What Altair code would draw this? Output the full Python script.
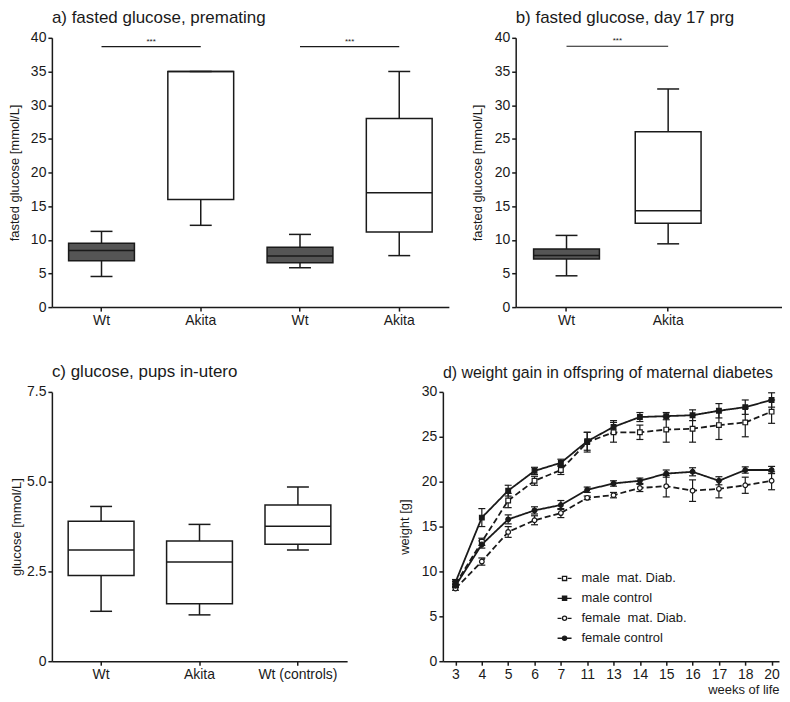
import altair as alt
import pandas as pd

FONT = "Liberation Sans"
INK = "#1a1a1a"
DARK = "#555555"

# ---------------- panel a: fasted glucose, premating ----------------
a_keys = ["Wt_1", "Akita_1", "Wt_2", "Akita_2"]
a_group = ["wt", "akita", "wt", "akita"]
a_min = [4.55, 12.15, 5.85, 7.65]
a_q1 = [6.9, 16.0, 6.6, 11.15]
a_med = [8.4, 35.0, 7.6, 17.0]
a_q3 = [9.5, 35.0, 8.9, 28.0]
a_max = [11.25, 35.0, 10.8, 35.0]
a_sig_from = ["Wt_1", "Wt_2"]
a_sig_to = ["Akita_1", "Akita_2"]
a_sig_y = [38.7, 38.7]
a_sig_text = ["***", "***"]

# ---------------- panel b: fasted glucose, day 17 prg ----------------
b_keys = ["Wt", "Akita"]
b_group = ["wt", "akita"]
b_min = [4.65, 9.4]
b_q1 = [7.15, 12.45]
b_med = [7.65, 14.3]
b_q3 = [8.65, 26.05]
b_max = [10.65, 32.4]
b_sig_from = ["Wt"]
b_sig_to = ["Akita"]
b_sig_y = [38.75]
b_sig_text = ["***"]

# ---------------- panel c: glucose, pups in-utero ----------------
c_keys = ["Wt", "Akita", "Wt (controls)"]
c_group = ["akita", "akita", "akita"]
c_min = [1.39, 1.29, 3.10]
c_q1 = [2.39, 1.60, 3.26]
c_med = [3.10, 2.76, 3.76]
c_q3 = [3.90, 3.35, 4.35]
c_max = [4.31, 3.81, 4.85]

# ---------------- panel d: weight gain ----------------
weeks = ["3", "4", "5", "6", "7", "11", "13", "14", "15", "16", "17", "18", "20"]
series = ["male\u00a0 mat. Diab.", "male control", "female\u00a0 mat. Diab.", "female control"]
male_diab = [8.6, 13.3, 17.9, 20.1, 21.3, 24.4, 25.5, 25.5, 25.8, 25.9, 26.3, 26.6, 27.8]
male_diab_sem = [0.3, 0.4, 0.8, 0.5, 0.5, 1.1, 1.1, 0.8, 1.4, 1.5, 1.6, 1.6, 1.3]
male_ctrl = [8.8, 16.0, 19.0, 21.2, 22.1, 24.5, 26.1, 27.2, 27.3, 27.4, 27.9, 28.3, 29.1]
male_ctrl_sem = [0.3, 1.0, 0.6, 0.4, 0.4, 1.0, 0.7, 0.5, 0.4, 0.6, 0.8, 0.8, 0.8]
fem_diab = [8.1, 11.1, 14.4, 15.7, 16.5, 18.2, 18.5, 19.3, 19.5, 19.0, 19.2, 19.6, 20.1]
fem_diab_sem = [0.2, 0.4, 0.6, 0.5, 0.5, 0.2, 0.3, 0.4, 1.2, 1.2, 1.0, 0.9, 1.0]
fem_ctrl = [8.4, 13.0, 15.8, 16.8, 17.4, 19.1, 19.8, 20.1, 20.9, 21.1, 20.1, 21.3, 21.3]
fem_ctrl_sem = [0.2, 0.4, 0.5, 0.4, 0.5, 0.3, 0.3, 0.3, 0.4, 0.45, 0.45, 0.35, 0.4]

BOXW = 66
CAPW = 22


def box_panel(keys, group, mn, q1, med, q3, mx, xscale, ydom, yvals, ytitle,
              title, width, height, sig=None, label_expr=None, ylabel_expr=None,
              title_pad=10):
    df = pd.DataFrame({"key": keys, "grp": group, "lo": mn, "q1": q1,
                       "med": med, "q3": q3, "hi": mx})
    if label_expr:
        xaxis = alt.Axis(title=None, labelAngle=0, labelExpr=label_expr)
    else:
        xaxis = alt.Axis(title=None, labelAngle=0)
    x = alt.X("key:N", scale=xscale, axis=xaxis)
    yaxis_kw = dict(values=yvals, title=ytitle, titlePadding=title_pad)
    if ylabel_expr:
        yaxis_kw["labelExpr"] = ylabel_expr
    yscale = alt.Scale(domain=ydom, nice=False, zero=True)

    def Y(field):
        return alt.Y(field, scale=yscale, axis=alt.Axis(**yaxis_kw))

    base = alt.Chart(df)
    whisk = base.mark_rule(color=INK, strokeWidth=1.5, opacity=1).encode(
        x=x, y=Y("lo:Q"), y2="hi:Q")
    box = base.mark_bar(size=BOXW, stroke=INK, strokeWidth=1.5, opacity=1).encode(
        x=x, y=Y("q1:Q"), y2="q3:Q",
        fill=alt.Fill("grp:N", scale=alt.Scale(domain=["wt", "akita"], range=[DARK, "white"]),
                      legend=None))
    median = base.mark_tick(size=BOXW, thickness=1.5, color=INK, opacity=1).encode(
        x=x, y=Y("med:Q"))
    caps = base.transform_fold(["lo", "hi"], as_=["end", "v"]).mark_tick(
        size=CAPW, thickness=1.5, color=INK, opacity=1).encode(x=x, y=Y("v:Q"))
    layers = [whisk, box, median, caps]
    if sig is not None:
        sdf = pd.DataFrame({"from": sig[0], "to": sig[1], "y": sig[2], "txt": sig[3]})
        sb = alt.Chart(sdf)
        line = sb.mark_rule(color=INK, strokeWidth=1.2, opacity=1).encode(
            x=alt.X("from:N", scale=xscale, axis=xaxis), x2="to:N", y=Y("y:Q"))
        star = sb.mark_text(font=FONT, fontSize=8, color=INK, dy=-5).encode(
            x=alt.X("to:N", scale=xscale, bandPosition=0, axis=xaxis), y=Y("y:Q"),
            text="txt:N")
        layers += [line, star]
    return alt.layer(*layers).properties(
        width=width, height=height,
        title=alt.TitleParams(title, anchor="start", frame="group"))


yv40 = list(range(0, 41, 5))
pa = box_panel(a_keys, a_group, a_min, a_q1, a_med, a_q3, a_max,
               alt.Scale(domain=a_keys, paddingInner=0, paddingOuter=0),
               [0, 40], yv40, "fasted glucose [mmol/L]",
               "a) fasted glucose, premating", 398, 270,
               sig=(a_sig_from, a_sig_to, a_sig_y, a_sig_text),
               label_expr="split(datum.label, '_')[0]", title_pad=9)
pb = box_panel(b_keys, b_group, b_min, b_q1, b_med, b_q3, b_max,
               alt.Scale(domain=b_keys, paddingInner=0, paddingOuter=0.31, align=0),
               [0, 40], yv40, "fasted glucose [mmol/L]",
               "b) fasted glucose, day 17 prg", 267, 270,
               sig=(b_sig_from, b_sig_to, b_sig_y, b_sig_text))
pc = box_panel(c_keys, c_group, c_min, c_q1, c_med, c_q3, c_max,
               alt.Scale(domain=c_keys, paddingInner=0, paddingOuter=0),
               [0, 7.5], [0, 2.5, 5.0, 7.5], "glucose [mmol/L]",
               "c) glucose, pups in-utero", 296, 270,
               ylabel_expr="datum.value == 0 ? '0' : format(datum.value, '.1f')",
               title_pad=3)

# ---------------- panel d ----------------
rows = []
for s, m, e in zip(series, [male_diab, male_ctrl, fem_diab, fem_ctrl],
                   [male_diab_sem, male_ctrl_sem, fem_diab_sem, fem_ctrl_sem]):
    for w, mv, ev in zip(weeks, m, e):
        rows.append({"series": s, "week": w, "mean": mv, "sem": ev})
ddf = pd.DataFrame(rows)

xs = alt.Scale(type="point", domain=weeks, padding=0.38, align=0.63)
xax = alt.Axis(title="weeks of life", labelAngle=0, titleAnchor="end", titlePadding=2)
xd = alt.X("week:O", scale=xs, axis=xax)
ysd = alt.Scale(domain=[0, 30], nice=False)
yax = alt.Axis(values=list(range(0, 31, 5)), title="weight [g]", titlePadding=10)


def YD(field):
    return alt.Y(field, scale=ysd, axis=yax)


dbase = alt.Chart(ddf)
lines = dbase.mark_line(color=INK, strokeWidth=1.8).encode(
    x=xd, y=YD("mean:Q"),
    strokeDash=alt.StrokeDash("series:N", scale=alt.Scale(domain=series,
                              range=[[6, 3], [1, 0], [6, 3], [1, 0]]), legend=None),
    detail="series:N")
err = dbase.transform_calculate(lo="datum.mean - datum.sem", hi="datum.mean + datum.sem")
ebar = err.mark_rule(color=INK, strokeWidth=1.2, opacity=1).encode(
    x=xd, y=YD("lo:Q"), y2="hi:Q")
ecap = err.transform_fold(["lo", "hi"], as_=["end", "v"]).mark_tick(
    size=7, thickness=1.2, color=INK, opacity=1).encode(x=xd, y=YD("v:Q"))
pts = dbase.mark_point(filled=False, stroke=INK, strokeWidth=1.2, size=22, opacity=1).encode(
    x=xd, y=YD("mean:Q"),
    shape=alt.Shape("series:N", scale=alt.Scale(domain=series,
                    range=["square", "square", "circle", "circle"]), legend=None),
    fill=alt.Fill("series:N", scale=alt.Scale(domain=series,
                  range=["white", INK, "white", INK]), legend=None))

SQ = "M-0.3,-0.3H0.3V0.3H-0.3Z"
CI = "M-0.3,0A0.3,0.3 0 1,0 0.3,0A0.3,0.3 0 1,0 -0.3,0Z"
leg_paths = ["M-1,0H-0.45M0.45,0H1" + SQ, "M-1,0H1" + SQ,
             "M-1,0H-0.45M0.45,0H1" + CI, "M-1,0H1" + CI]
leg = alt.Legend(title=None, orient="none", legendX=114, legendY=179,
                 symbolSize=196, symbolStrokeColor=INK, symbolStrokeWidth=1.3,
                 symbolOpacity=1, labelFont=FONT, labelFontSize=13, labelColor=INK,
                 labelOffset=9, rowPadding=5, padding=0)
legend_layer = dbase.transform_calculate(series_l="datum.series").mark_point(
    filled=False, strokeWidth=1.3, opacity=0).encode(
    x=xd, y=YD("mean:Q"),
    shape=alt.Shape("series_l:N", scale=alt.Scale(domain=series, range=leg_paths), legend=leg),
    fill=alt.Fill("series_l:N", scale=alt.Scale(domain=series,
                  range=["white", INK, "white", INK]), legend=leg),
    stroke=alt.Stroke("series_l:N", scale=alt.Scale(domain=series,
                      range=[INK, INK, INK, INK]), legend=leg))

pd_ = alt.layer(lines, ebar, ecap, pts, legend_layer).resolve_scale(
    shape="independent", fill="independent", stroke="independent").properties(
    width=337, height=270,
    title=alt.TitleParams("d) weight gain in offspring of maternal diabetes",
                          anchor="start", frame="group", fontSize=16))

row1 = alt.hconcat(pa, pb, spacing=22)
row2 = alt.hconcat(pc, pd_, spacing=51)
chart = alt.vconcat(row1, row2, spacing=36).properties(
    padding={"left": 0, "top": 0, "right": 0, "bottom": 0}
).configure_view(stroke=None).configure_axis(
    domainColor=INK, domainWidth=1.5, tickColor=INK, tickWidth=1.5, tickSize=4,
    labelFont=FONT, labelFontSize=14, labelColor=INK, labelPadding=2,
    titleFont=FONT, titleFontSize=13, titleFontWeight="normal", titleColor=INK,
    grid=False
).configure_title(
    font=FONT, fontSize=17, fontWeight="normal", color=INK, offset=0
)

chart.save("out.html", embed_options={"renderer": "svg", "actions": False})
